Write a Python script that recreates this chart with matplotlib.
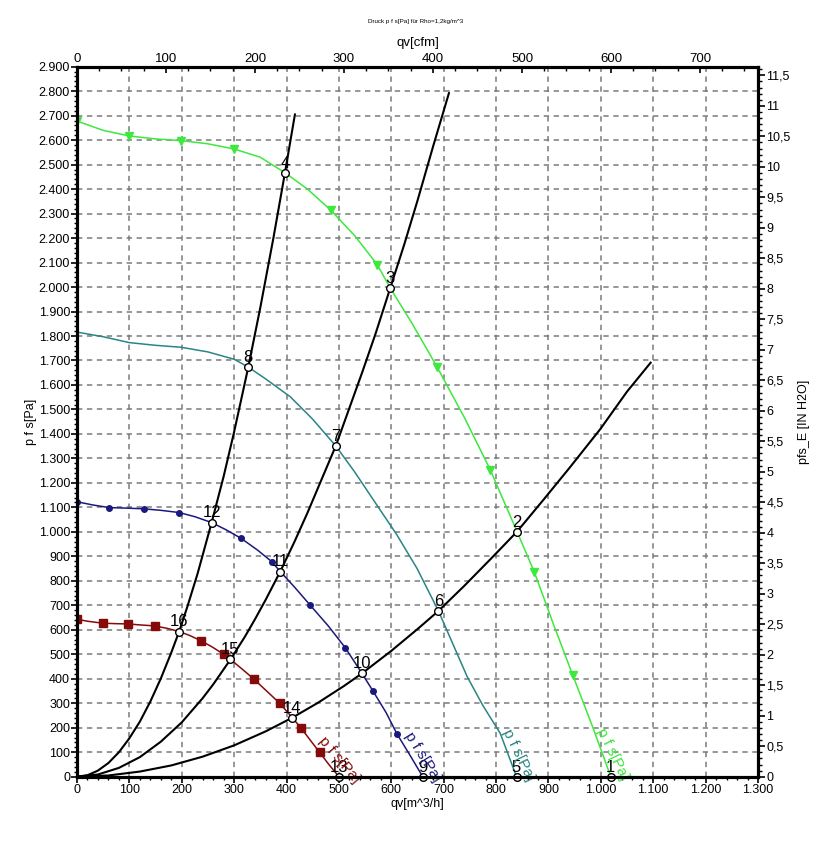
import numpy as np
import matplotlib.pyplot as plt
from matplotlib.ticker import MultipleLocator, FuncFormatter

plt.rcParams['font.family'] = ['Liberation Sans', 'DejaVu Sans']

PA_PER_INH2O = 249.089
CFM_PER_M3H = 0.5886

# fan curves, q in m^3/h, p in Pa (path points)
green_q = [0, 50, 100, 150, 199, 250, 300, 350, 397, 440, 484, 530, 573, 598, 640, 687, 740, 789,
           840, 873, 910, 946, 985, 1019]
green_p = [2678, 2640, 2617, 2605, 2598, 2585, 2564, 2530, 2467, 2400, 2315, 2210, 2092, 1996, 1850,
           1675, 1465, 1253, 1001, 836, 620, 417, 200, 0]
teal_q = [0, 50, 100, 150, 199, 250, 300, 327, 360, 407, 450, 494, 530, 566, 610, 649, 690, 720,
          745, 775, 808, 839]
teal_p = [1816, 1797, 1773, 1762, 1754, 1735, 1705, 1673, 1625, 1552, 1460, 1351, 1245, 1130, 990,
          851, 677, 530, 408, 290, 177, 0]
navy_q = [0, 30, 62, 95, 128, 160, 195, 225, 257, 285, 313, 345, 372, 388, 415, 445, 480, 512, 544,
          565, 590, 611, 635, 660]
navy_p = [1123, 1110, 1099, 1097, 1094, 1088, 1079, 1062, 1038, 1008, 974, 925, 878, 838, 775, 701,
          615, 527, 422, 350, 262, 174, 90, 0]
red_q = [0, 20, 49, 75, 97, 120, 148, 172, 195, 215, 236, 258, 280, 293, 315, 337, 362, 387, 411,
         428, 445, 463, 480, 500]
red_p = [643, 635, 627, 625, 624, 620, 616, 606, 593, 577, 556, 530, 500, 479, 440, 400, 350, 300,
         241, 198, 150, 100, 52, 0]

# marker positions on the fan curves
green_mq = [0, 100, 199, 300, 484, 573, 687, 789, 873, 946]
green_mp = [2678, 2617, 2598, 2564, 2315, 2092, 1675, 1253, 836, 417]
navy_mq = [0, 62, 128, 195, 313, 372, 445, 512, 565, 611]
navy_mp = [1123, 1099, 1094, 1079, 974, 878, 701, 527, 350, 174]
red_mq = [0, 49, 97, 148, 236, 280, 337, 387, 428, 463]
red_mp = [643, 627, 624, 616, 556, 500, 400, 300, 198, 100]

# operating points 1..16
op_num = list(range(1, 17))
op_q = [1019, 840, 598, 397, 839, 690, 494, 327, 660, 544, 388, 257, 500, 411, 293, 195]
op_p = [0, 1001, 1996, 2467, 0, 677, 1351, 1673, 0, 422, 838, 1038, 0, 241, 479, 593]

# system curves
sysA_q = [0, 20, 40, 60, 80, 100, 120, 140, 160, 180, 195, 210, 230, 257, 280, 300, 327, 350, 375,
          397, 416]
sysA_p = [0, 6, 25, 56, 100, 157, 225, 307, 401, 507, 593, 690, 828, 1038, 1227, 1409, 1673, 1917,
          2201, 2467, 2705]
sysB_q = [0, 40, 80, 120, 160, 200, 240, 260, 293, 320, 340, 360, 388, 415, 440, 470, 494, 520, 545,
          570, 598, 625, 650, 680, 710]
sysB_p = [0, 9, 36, 80, 143, 222, 321, 377, 479, 570, 644, 722, 838, 959, 1078, 1230, 1351, 1506,
          1655, 1810, 1996, 2176, 2353, 2576, 2792]
sysC_q = [0, 60, 120, 180, 240, 300, 360, 411, 460, 510, 544, 600, 650, 690, 740, 790, 840, 890,
          940, 999, 1050, 1095]
sysC_p = [0, 5, 21, 46, 82, 128, 185, 241, 302, 371, 422, 514, 603, 677, 781, 890, 1001, 1130, 1261,
          1420, 1573, 1691]

fig = plt.figure(figsize=(8.31, 8.44), dpi=100)
ax = fig.add_axes([77 / 831, 67.3 / 844, 681 / 831, 710 / 844])

ax.set_xlim(0, 1300)
ax.set_ylim(0, 2900)
ax.xaxis.set_major_locator(MultipleLocator(100))
ax.yaxis.set_major_locator(MultipleLocator(100))
ax.xaxis.set_minor_locator(MultipleLocator(20))
ax.yaxis.set_minor_locator(MultipleLocator(20))
thousands = FuncFormatter(lambda v, pos: f"{int(round(v)):,}".replace(",", "."))
ax.xaxis.set_major_formatter(thousands)
ax.yaxis.set_major_formatter(thousands)
ax.grid(True, which='major', color='#7a7a7a', linestyle=(0, (3.5, 3)), linewidth=1.1)
ax.set_axisbelow(True)
ax.tick_params(which='major', direction='out', length=4, width=1.2, labelsize=9, pad=1)
ax.tick_params(which='minor', direction='out', length=2.5, width=1)
for s in ax.spines.values():
    s.set_linewidth(2.2)

for q, p in [(sysA_q, sysA_p), (sysB_q, sysB_p), (sysC_q, sysC_p)]:
    ax.plot(q, p, color='black', lw=1.5, zorder=3)

GREEN, TEAL, NAVY, RED = '#3ee83e', '#2a8585', '#1a1a7e', '#850a0a'

ax.plot(green_q, green_p, color=GREEN, lw=1.1, zorder=4)
ax.plot(teal_q, teal_p, color=TEAL, lw=1.1, zorder=4)
ax.plot(navy_q, navy_p, color=NAVY, lw=1.1, zorder=4)
ax.plot(red_q, red_p, color=RED, lw=1.1, zorder=4)
ax.plot(green_mq, green_mp, linestyle='none', marker='v', color=GREEN, ms=5.5, zorder=5)
ax.plot(navy_mq, navy_mp, linestyle='none', marker='o', color=NAVY, ms=4, zorder=5)
ax.plot(red_mq, red_mp, linestyle='none', marker='s', color=RED, ms=6, zorder=5)

ax.plot(op_q, op_p, linestyle='none', marker='o', ms=5.5, mfc='white', mec='black', mew=1, zorder=6,
        clip_on=False)
for n, q, p in zip(op_num, op_q, op_p):
    ax.annotate(str(n), (q, p), xytext=(0, 1.5), textcoords='offset points', ha='center', va='bottom',
                fontsize=12, zorder=7)

# curve labels
ax.text(1022, 92, 'p f s[Pa]', color=GREEN, rotation=-64, fontsize=11, ha='center', va='center',
        rotation_mode='anchor', zorder=7)
ax.text(842, 90, 'p f s[Pa]', color=TEAL, rotation=-64, fontsize=11, ha='center', va='center',
        rotation_mode='anchor', zorder=7)
ax.text(660, 82, 'p f s[Pa]', color=NAVY, rotation=-58, fontsize=11, ha='center', va='center',
        rotation_mode='anchor', zorder=7)
ax.text(500, 70, 'p f s[Pa]', color=RED, rotation=-50, fontsize=11, ha='center', va='center',
        rotation_mode='anchor', zorder=7)

ax.set_xlabel('qv[m^3/h]', fontsize=9, labelpad=2)
ax.set_ylabel('p f s[Pa]', fontsize=9, labelpad=1)

# right axis in H2O
ax2 = ax.twinx()
ax2.set_ylim(0, 2900 / PA_PER_INH2O)
ax2.yaxis.set_major_locator(MultipleLocator(0.5))
ax2.yaxis.set_minor_locator(MultipleLocator(0.1))
ax2.yaxis.set_major_formatter(FuncFormatter(lambda v, pos: f"{v:g}".replace(".", ",")))
ax2.tick_params(which='major', direction='out', length=5, width=1.2, labelsize=9, pad=1)
ax2.tick_params(which='minor', direction='out', length=3, width=1)
ax2.set_ylabel('pfs_E [IN H2O]', fontsize=9, labelpad=5)
for s in ax2.spines.values():
    s.set_linewidth(2.2)

# top axis cfm
ax3 = ax.twiny()
ax3.set_xlim(0, 1300 * CFM_PER_M3H)
ax3.xaxis.set_major_locator(MultipleLocator(100))
ax3.xaxis.set_minor_locator(MultipleLocator(25))
ax3.tick_params(which='major', direction='in', length=4, width=1.2, labelsize=9.5, pad=1)
ax3.tick_params(which='minor', direction='in', length=3, width=1)
ax3.set_xlabel('qv[cfm]', fontsize=9.5, labelpad=5)
for s in ax3.spines.values():
    s.set_linewidth(2.2)

fig.text(416 / 831, 1 - 21 / 844, 'Druck p f s[Pa] für Rho=1,2kg/m^3', fontsize=4.5, ha='center', va='center')

fig.savefig('out.png', dpi=100)
